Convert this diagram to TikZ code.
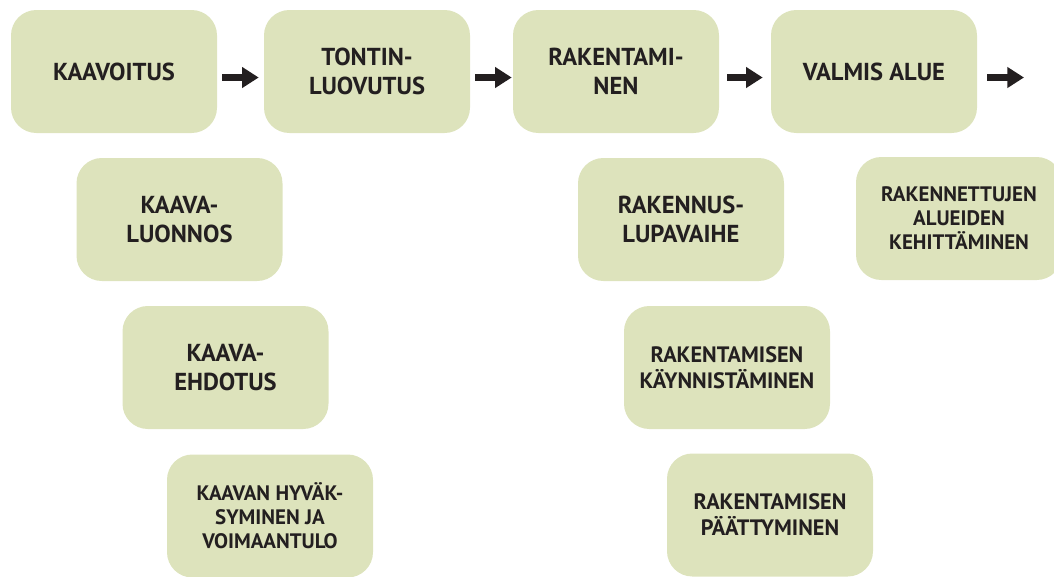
\documentclass[tikz,border=0pt]{standalone}
\usepackage{fontspec}
\setmainfont{PT Sans}
\usetikzlibrary{arrows.meta}
\definecolor{boxgreen}{RGB}{221,227,188}
\definecolor{ink}{RGB}{35,31,32}

\begin{document}
\begin{tikzpicture}[x=0.75pt,y=-0.75pt,
		box/.style={fill=boxgreen, rounded corners=19pt, inner sep=0pt,
			minimum width=154.5pt, minimum height=92.25pt, align=center,
			text=ink, font=\bfseries\fontsize{18.4}{21.5}\selectfont},
		midtext/.style={font=\bfseries\fontsize{16.7}{19.5}\selectfont},
		smalltext/.style={font=\bfseries\fontsize{15.7}{18}\selectfont},
		flow/.style={ink, line width=5pt, -{Triangle[length=12.5pt,width=15pt]}}]
			\useasboundingbox (0,0) rectangle (1054,576);
			
			% main row
			\node(kaav) [box] at (114,71.5) {KAAVOITUS};
			\node(tont) [box] at (367,71.5) {TONTIN-\\LUOVUTUS};
			\node(rak) [box] at (616,71.5) {RAKENTAMI-\\NEN};
			\node(valm) [box] at (874,71.5) {VALMIS ALUE};
			\coordinate(out) at (1024,77.5);
			
			% steps below
			\node(luon) [box] at (179.5,219.5) {KAAVA-\\LUONNOS};
			\node(ehd) [box] at (225.5,367.5) {KAAVA-\\EHDOTUS};
			\node(hyv) [box, smalltext] at (270,516) {KAAVAN HYVÄK-\\SYMINEN JA\\VOIMAANTULO};
			\node(lupa) [box] at (681,219.5) {RAKENNUS-\\LUPAVAIHE};
			\node(kayn) [box, midtext] at (727,367.5) {RAKENTAMISEN\\KÄYNNISTÄMINEN};
			\node(paat) [box, midtext] at (770,515) {RAKENTAMISEN\\PÄÄTTYMINEN};
			\node(kehi) [box, smalltext] at (959,218.5) {RAKENNETTUJEN\\ALUEIDEN\\KEHITTÄMINEN};
			
			\draw[flow, shorten <=3.75pt, shorten >=3.75pt] ([yshift=-4.5pt]kaav.east) -- ([yshift=-4.5pt]tont.west);
			\draw[flow, shorten <=3.75pt, shorten >=0.75pt] ([yshift=-4.5pt]tont.east) -- ([yshift=-4.5pt]rak.west);
			\draw[flow, shorten <=6pt, shorten >=6pt] ([yshift=-4.5pt]rak.east) -- ([yshift=-4.5pt]valm.west);
			\draw[flow, shorten <=7.5pt] ([yshift=-4.5pt]valm.east) -- (out);
			
		\end{tikzpicture}
\end{document}
